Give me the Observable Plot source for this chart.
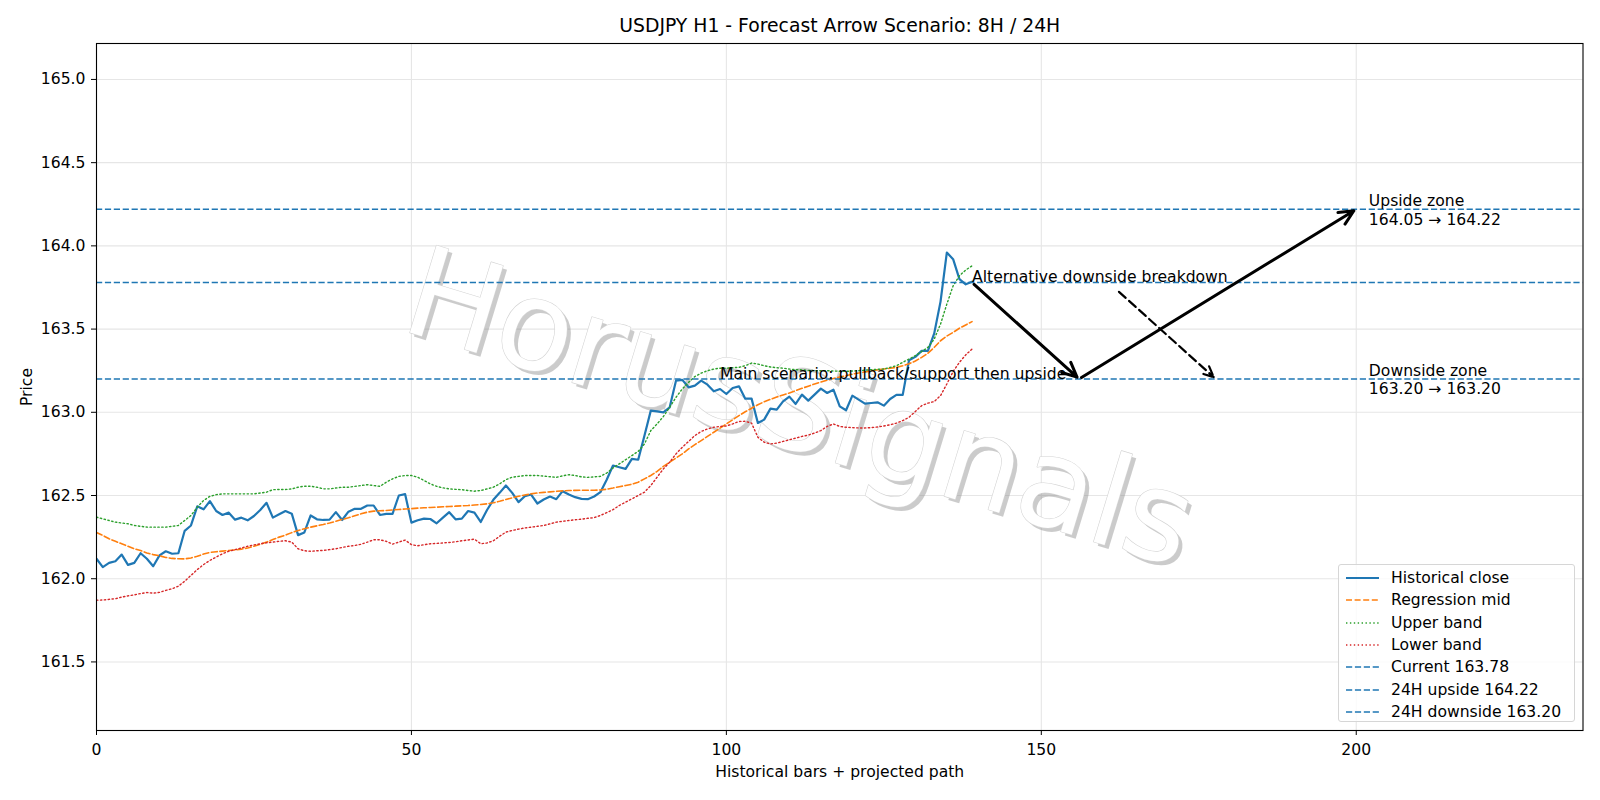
<!DOCTYPE html>
<html>
<head>
<meta charset="utf-8">
<script src="https://cdn.jsdelivr.net/npm/d3@7"></script>
<script src="https://cdn.jsdelivr.net/npm/@observablehq/plot@0.6"></script>
<style>
  body { margin: 0; background: #fff; font-family: "DejaVu Sans", sans-serif; }
  #wrap { position: relative; width: 1600px; height: 800px; overflow: hidden; }
  #legend {
    position: absolute; left: 1338px; top: 564px; width: 237px; height: 158px;
    box-sizing: border-box; border: 1px solid #d6d6d6; border-radius: 3px;
    background: rgba(255,255,255,0.8); font-size: 15.6px; color: #000; padding-top: 2px;
  }
  #legend .row { height: 22.3px; display: flex; align-items: center; white-space: nowrap; }
  #legend svg { margin-left: 7px; margin-right: 12px; flex: none; }
</style>
</head>
<body>
<div id="wrap"><div id="chart"></div><div id="legend"></div></div>
<script>
// ---- data ----
const titleText = "USDJPY H1 - Forecast Arrow Scenario: 8H / 24H";
const xLabel = "Historical bars + projected path";
const yLabel = "Price";
const xTicks = [0, 50, 100, 150, 200];
const yTicks = [161.5, 162.0, 162.5, 163.0, 163.5, 164.0, 164.5, 165.0];

const close = [162.12,162.07,162.095,162.105,162.145,162.083,162.095,162.153,162.12,162.075,
 162.14,162.165,162.15,162.153,162.288,162.32,162.435,162.417,162.466,162.407,
 162.383,162.397,162.355,162.367,162.351,162.377,162.413,162.456,162.367,162.387,
 162.407,162.391,162.262,162.278,162.38,162.357,162.353,162.355,162.4,162.353,
 162.403,162.42,162.42,162.44,162.44,162.383,162.39,162.39,162.5,162.508,
 162.337,162.351,162.361,162.359,162.333,162.367,162.4,162.357,162.361,162.407,
 162.397,162.341,162.413,162.474,162.516,162.56,162.516,162.46,162.496,162.506,
 162.452,162.476,162.494,162.478,162.526,162.506,162.49,162.48,162.478,162.494,
 162.52,162.595,162.68,162.67,162.66,162.72,162.715,162.86,163.01,163.005,
 163.0,163.03,163.19,163.195,163.15,163.16,163.19,163.166,163.126,163.14,
 163.11,163.146,163.156,163.082,163.082,162.936,162.956,163.022,163.016,163.066,
 163.094,163.05,163.106,163.07,163.106,163.142,163.116,163.136,163.036,163.012,
 163.1,163.076,163.052,163.056,163.06,163.04,163.08,163.105,163.105,163.313,
 163.333,163.369,163.369,163.474,163.665,163.96,163.92,163.8,163.769,163.785];

const mid = [162.278,162.26,162.24,162.225,162.21,162.195,162.18,162.169,162.155,162.145,
 162.138,162.128,162.122,162.12,162.119,162.125,162.135,162.148,162.158,162.162,
 162.166,162.17,162.173,162.178,162.185,162.195,162.207,162.22,162.235,162.25,
 162.262,162.277,162.29,162.3,162.31,162.318,162.326,162.335,162.345,162.356,
 162.366,162.378,162.39,162.4,162.406,162.408,162.41,162.413,162.416,162.419,
 162.421,162.424,162.426,162.428,162.43,162.432,162.434,162.436,162.438,162.44,
 162.443,162.446,162.45,162.456,162.465,162.476,162.486,162.495,162.503,162.51,
 162.515,162.519,162.522,162.525,162.528,162.53,162.531,162.532,162.532,162.532,
 162.533,162.538,162.545,162.553,162.56,162.568,162.58,162.6,162.62,162.645,
 162.675,162.7,162.725,162.75,162.78,162.806,162.83,162.855,162.88,162.905,
 162.93,162.955,162.98,163.003,163.024,163.045,163.063,163.078,163.092,163.104,
 163.116,163.13,163.144,163.157,163.17,163.182,163.193,163.203,163.212,163.22,
 163.229,163.236,163.243,163.249,163.255,163.26,163.265,163.27,163.28,163.292,
 163.308,163.33,163.355,163.39,163.43,163.458,163.48,163.505,163.525,163.545];

const upper = [162.37,162.36,162.35,162.34,162.335,162.33,162.32,162.315,162.31,162.31,
 162.31,162.31,162.315,162.32,162.35,162.38,162.43,162.47,162.495,162.505,
 162.51,162.51,162.51,162.51,162.51,162.51,162.515,162.52,162.535,162.536,
 162.536,162.54,162.55,162.556,162.556,162.55,162.54,162.54,162.545,162.55,
 162.55,162.555,162.56,162.565,162.56,162.555,162.58,162.6,162.615,162.62,
 162.62,162.61,162.59,162.57,162.555,162.546,162.54,162.537,162.535,162.53,
 162.526,162.53,162.54,162.55,162.57,162.595,162.61,162.615,162.62,162.62,
 162.62,162.617,162.613,162.609,162.618,162.625,162.62,162.612,162.609,162.612,
 162.615,162.635,162.665,162.69,162.715,162.74,162.765,162.81,162.89,162.93,
 162.975,163.03,163.09,163.14,163.18,163.215,163.235,163.25,163.26,163.265,
 163.265,163.268,163.27,163.28,163.296,163.29,163.28,163.272,163.268,163.265,
 163.26,163.256,163.255,163.252,163.25,163.25,163.25,163.248,163.247,163.246,
 163.248,163.25,163.253,163.256,163.258,163.26,163.27,163.28,163.3,163.32,
 163.34,163.365,163.39,163.44,163.53,163.65,163.76,163.82,163.855,163.88];

const lower = [161.871,161.872,161.876,161.88,161.89,161.897,161.903,161.911,161.917,161.913,
 161.918,161.93,161.94,161.955,161.985,162.02,162.055,162.085,162.11,162.13,
 162.15,162.165,162.175,162.185,162.195,162.203,162.21,162.216,162.22,162.225,
 162.228,162.22,162.18,162.168,162.165,162.168,162.17,162.175,162.18,162.188,
 162.195,162.2,162.207,162.22,162.234,162.234,162.225,162.208,162.22,162.232,
 162.205,162.198,162.204,162.21,162.212,162.215,162.218,162.222,162.228,162.233,
 162.238,162.21,162.215,162.228,162.255,162.28,162.29,162.298,162.305,162.31,
 162.315,162.32,162.33,162.34,162.345,162.35,162.354,162.358,162.363,162.367,
 162.38,162.397,162.415,162.44,162.46,162.48,162.5,162.52,162.56,162.61,
 162.66,162.7,162.75,162.79,162.825,162.86,162.885,162.9,162.91,162.915,
 162.918,162.93,162.945,162.946,162.935,162.85,162.82,162.81,162.815,162.825,
 162.835,162.845,162.855,162.863,162.875,162.89,162.915,162.93,162.915,162.91,
 162.908,162.906,162.906,162.908,162.912,162.918,162.925,162.935,162.95,162.97,
 163.005,163.04,163.055,163.065,163.1,163.17,163.245,163.3,163.345,163.38];

const levelNames = ["Current 163.78", "24H upside 164.22", "24H downside 163.20"];
const levels = [163.78, 164.22, 163.20];

// projected path (main scenario) and alternative path
const mainPathX = [139, 156, 200];
const mainPathY = [163.78, 163.20, 164.22];
const altPathX = [162, 177.7];
const altPathY = [163.735, 163.20];

const notes = [
  {x: 99, y: 163.20, text: "Main scenario: pullback/support then upside"},
  {x: 139, y: 163.78, text: "Alternative downside breakdown"}
];
const zones = [
  {x: 202, y: 164.22, text: "Upside zone\n164.05 → 164.22"},
  {x: 202, y: 163.20, text: "Downside zone\n163.20 → 163.20"}
];
const watermark = "HorusSignals";

// ---- styles ----
const C = {blue: "#1f77b4", orange: "#ff7f0e", green: "#2ca02c", red: "#d62728"};
const series = [
  {name: "Historical close", values: close, stroke: C.blue, width: 2.2, dash: null},
  {name: "Regression mid", values: mid, stroke: C.orange, width: 1.6, dash: "6,2.6"},
  {name: "Upper band", values: upper, stroke: C.green, width: 1.4, dash: "1.4,2.5"},
  {name: "Lower band", values: lower, stroke: C.red, width: 1.4, dash: "1.4,2.5"}
];
const fs = 15.6;

const mainSegs = d3.pairs(d3.zip(mainPathX, mainPathY)).map(([a, b]) => ({x1: a[0], y1: a[1], x2: b[0], y2: b[1]}));
const altSegs = d3.pairs(d3.zip(altPathX, altPathY)).map(([a, b]) => ({x1: a[0], y1: a[1], x2: b[0], y2: b[1]}));

const chart = Plot.plot({
  width: 1600,
  height: 800,
  marginLeft: 96,
  marginRight: 17.5,
  marginTop: 43,
  marginBottom: 70,
  style: {fontFamily: "DejaVu Sans", fontSize: fs + "px", color: "#000", background: "#fff", overflow: "visible"},
  x: {domain: [0, 236]},
  y: {domain: [161.088, 165.216]},
  marks: [
    Plot.gridX(xTicks, {stroke: "#e6e6e6", strokeOpacity: 1, strokeWidth: 1.1}),
    Plot.gridY(yTicks, {stroke: "#e6e6e6", strokeOpacity: 1, strokeWidth: 1.1}),
    // watermark: grey shadow then white text
    Plot.text([watermark], {frameAnchor: "middle", dx: -36, dy: 27, rotate: 17, fontSize: 125,
      fill: "#8c8c8c", fillOpacity: 0.45, textAnchor: "middle", lineAnchor: "middle"}),
    Plot.text([watermark], {frameAnchor: "middle", dx: -40, dy: 23, rotate: 17, fontSize: 125,
      fill: "#ffffff", stroke: "#d4d4d4", strokeWidth: 1.2, paintOrder: "stroke", textAnchor: "middle", lineAnchor: "middle"}),
    ...series.map(s => Plot.lineY(s.values, {stroke: s.stroke, strokeWidth: s.width,
      strokeDasharray: s.dash, clip: true})),
    Plot.ruleY(levels, {stroke: C.blue, strokeWidth: 1.6, strokeDasharray: "6.2,2.7"}),
    Plot.arrow(mainSegs, {x1: "x1", y1: "y1", x2: "x2", y2: "y2", stroke: "#000", strokeWidth: 3,
      headLength: 8, headAngle: 50, insetStart: 2.8, insetEnd: 2.8}),
    Plot.arrow(altSegs, {x1: "x1", y1: "y1", x2: "x2", y2: "y2", stroke: "#000", strokeWidth: 2.2,
      strokeDasharray: "9,4.5", headLength: 8, headAngle: 50, insetStart: 2.8, insetEnd: 2.8}),
    Plot.text(notes, {x: "x", y: "y", text: "text", textAnchor: "start", lineAnchor: "bottom",
      fontSize: fs, fill: "#000"}),
    Plot.text(zones, {x: "x", y: "y", text: "text", textAnchor: "start", lineAnchor: "middle",
      lineHeight: 1.2, fontSize: fs, fill: "#000"}),
    Plot.frame({stroke: "#000", strokeWidth: 1.1}),
    Plot.axisX(xTicks, {tickSize: 5, tickPadding: 8, fontSize: fs, label: null, tickFormat: d => String(d)}),
    Plot.axisY(yTicks, {tickSize: 5, tickPadding: 6, fontSize: fs, label: null, tickFormat: d3.format(".1f")}),
    Plot.text([titleText], {frameAnchor: "top", dy: -17.5, textAnchor: "middle", lineAnchor: "middle", fontSize: 18.8}),
    Plot.text([xLabel], {frameAnchor: "bottom", dy: 41, textAnchor: "middle", lineAnchor: "middle", fontSize: fs}),
    Plot.text([yLabel], {frameAnchor: "left", dx: -70, rotate: -90, textAnchor: "middle", lineAnchor: "middle", fontSize: fs})
  ]
});
document.getElementById("chart").appendChild(chart);

// ---- legend ----
const legendItems = [
  ...series.map(s => ({name: s.name, stroke: s.stroke, width: s.width, dash: s.dash})),
  ...levelNames.map(n => ({name: n, stroke: C.blue, width: 1.6, dash: "6.2,2.7"}))
];
const legend = d3.select("#legend");
for (const it of legendItems) {
  const row = legend.append("div").attr("class", "row");
  const svg = row.append("svg").attr("width", 33).attr("height", 10);
  svg.append("line").attr("x1", 0).attr("x2", 33).attr("y1", 5).attr("y2", 5)
    .attr("stroke", it.stroke).attr("stroke-width", it.width)
    .attr("stroke-dasharray", it.dash);
  row.append("span").text(it.name);
}
</script>
</body>
</html>
